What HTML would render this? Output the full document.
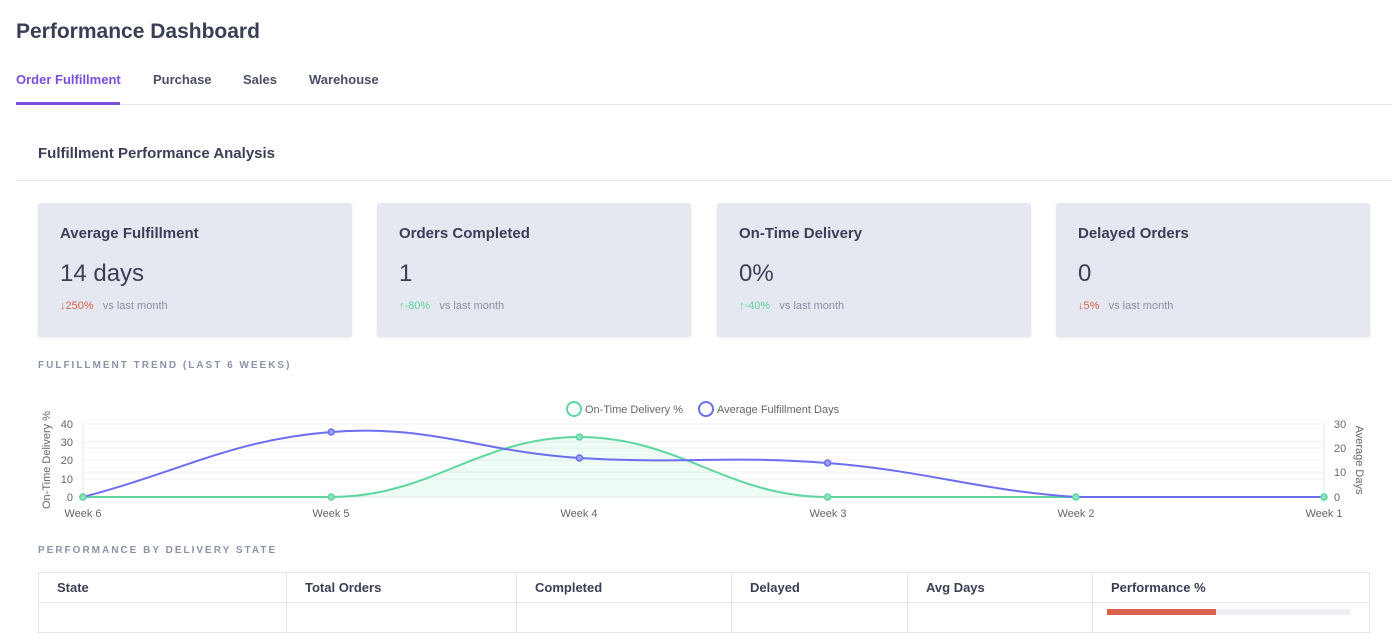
<!DOCTYPE html>
<html><head><meta charset="utf-8"><style>
*{margin:0;padding:0;box-sizing:border-box}
body{width:1400px;height:612px;overflow:hidden;background:#fff;font-family:"Liberation Sans",sans-serif;color:#3a3f55;position:relative}
.a{position:absolute;white-space:nowrap}
.card{position:absolute;top:203px;width:314px;height:134px;background:#e6e8f1;border-radius:3px;box-shadow:0 1px 3px rgba(0,0,0,0.08)}
.card .t{position:absolute;left:22px;top:22px;font-size:15px;font-weight:bold;color:#3a3f55}
.card .v{position:absolute;left:22px;top:57px;font-size:24px;color:#3a3f55}
.card .c{position:absolute;left:22px;top:97px;font-size:11px;color:#8a90a2}
.red{color:#d9604a}.grn{color:#5ed6a0}
.cap{font-size:10px;font-weight:bold;letter-spacing:2px;color:#8a93a8}
th{font-size:13px;font-weight:bold;text-align:left;padding-left:18px;color:#3a3f55;border:1px solid #e2e5ee;height:30px}
</style></head><body>
<div class="a" style="left:16px;top:20px;font-size:21px;font-weight:bold">Performance Dashboard</div>
<div class="a" style="left:16px;top:72px;font-size:13px;font-weight:bold;color:#7c4ddb">Order Fulfillment</div>
<div class="a" style="left:153px;top:72px;font-size:13px;font-weight:bold;color:#4a4f66">Purchase</div>
<div class="a" style="left:243px;top:72px;font-size:13px;font-weight:bold;color:#4a4f66">Sales</div>
<div class="a" style="left:309px;top:72px;font-size:13px;font-weight:bold;color:#4a4f66">Warehouse</div>
<div class="a" style="left:16px;top:104px;width:1376px;height:1px;background:#e2e5ee"></div>
<div class="a" style="left:16px;top:102px;width:104px;height:3px;background:#7c4ddb"></div>
<div class="a" style="left:38px;top:145px;font-size:15px;font-weight:bold">Fulfillment Performance Analysis</div>
<div class="a" style="left:16px;top:180px;width:1376px;height:1px;background:#e2e5ee"></div>

<div class="card" style="left:38px"><div class="t">Average Fulfillment</div><div class="v">14 days</div><div class="c"><span class="red">↓250%</span>&nbsp;&nbsp; vs last month</div></div>
<div class="card" style="left:377px"><div class="t">Orders Completed</div><div class="v">1</div><div class="c"><span class="grn">↑-80%</span>&nbsp;&nbsp; vs last month</div></div>
<div class="card" style="left:717px"><div class="t">On-Time Delivery</div><div class="v">0%</div><div class="c"><span class="grn">↑-40%</span>&nbsp;&nbsp; vs last month</div></div>
<div class="card" style="left:1056px"><div class="t">Delayed Orders</div><div class="v">0</div><div class="c"><span class="red">↓5%</span>&nbsp;&nbsp; vs last month</div></div>

<div class="a cap" style="left:38px;top:360px">FULFILLMENT TREND (LAST 6 WEEKS)</div>

<svg class="a" style="left:0;top:390px" width="1400" height="135" viewBox="0 390 1400 135" font-family="Liberation Sans, sans-serif" font-size="11" fill="#666">
<g stroke="#eef0f4" stroke-width="1">
<line x1="83" x2="1324" y1="424" y2="424"/><line x1="83" x2="1324" y1="442" y2="442"/><line x1="83" x2="1324" y1="460" y2="460"/><line x1="83" x2="1324" y1="479" y2="479"/>
<line x1="83" x2="1324" y1="448" y2="448"/><line x1="83" x2="1324" y1="472" y2="472"/>
</g>
<line x1="83" x2="83" y1="424" y2="497" stroke="#e2e5ee"/>
<line x1="1324" x2="1324" y1="424" y2="497" stroke="#e2e5ee"/>
<line x1="83" x2="1324" y1="497" y2="497" stroke="#e2e5ee"/>
<g text-anchor="end"><text x="73" y="428">40</text><text x="73" y="446">30</text><text x="73" y="464">20</text><text x="73" y="483">10</text><text x="73" y="501">0</text></g>
<g><text x="1334" y="428">30</text><text x="1334" y="452">20</text><text x="1334" y="476">10</text><text x="1334" y="501">0</text></g>
<text transform="translate(50,460) rotate(-90)" text-anchor="middle">On-Time Delivery %</text>
<text transform="translate(1356,460) rotate(90)" text-anchor="middle">Average Days</text>
<g text-anchor="middle"><text x="83" y="517">Week 6</text><text x="331" y="517">Week 5</text><text x="579" y="517">Week 4</text><text x="828" y="517">Week 3</text><text x="1076" y="517">Week 2</text><text x="1324" y="517">Week 1</text></g>
<circle cx="574" cy="409" r="7" fill="none" stroke="#5ed6a0" stroke-width="2"/><text x="585" y="413">On-Time Delivery %</text>
<circle cx="706" cy="409" r="7" fill="none" stroke="#6b6ef0" stroke-width="2"/><text x="717" y="413">Average Fulfillment Days</text>
<path d="M83,497 C182.3,497 231.9,497 331.2,497 C430.5,497 480.1,437 579.4,437 C678.7,437 728.3,497 827.6,497 L1324,497 Z" fill="#5ed6a0" fill-opacity="0.1"/>
<path d="M83,497 C182.3,497 231.9,497 331.2,497 C430.5,497 480.1,437 579.4,437 C678.7,437 728.3,497 827.6,497 L1324,497" fill="none" stroke="#5ed6a0" stroke-width="2"/>
<path d="M83,497 C182.3,471 231.9,439.8 331.2,432 C430.5,424.2 480.1,451.8 579.4,458 C678.7,464.2 728.3,455.2 827.6,463 C926.9,470.8 976.5,490.2 1075.8,497 L1324,497" fill="none" stroke="#6b6ef0" stroke-width="2"/>
<g fill="#9fa1f5" stroke="#6b6ef0" stroke-width="1.5"><circle cx="83" cy="497" r="3"/><circle cx="331.2" cy="432" r="3"/><circle cx="579.4" cy="458" r="3"/><circle cx="827.6" cy="463" r="3"/></g>
<g fill="#8fe3bd" stroke="#5ed6a0" stroke-width="1.5"><circle cx="83" cy="497" r="3"/><circle cx="331.2" cy="497" r="3"/><circle cx="579.4" cy="437" r="3"/><circle cx="827.6" cy="497" r="3"/><circle cx="1075.8" cy="497" r="3"/><circle cx="1324" cy="497" r="3"/></g>
</svg>

<div class="a cap" style="left:38px;top:545px">PERFORMANCE BY DELIVERY STATE</div>
<table class="a" style="left:38px;top:572px;width:1332px;border-collapse:collapse">
<tr><th style="width:248px">State</th><th style="width:230px">Total Orders</th><th style="width:215px">Completed</th><th style="width:176px">Delayed</th><th style="width:185px">Avg Days</th><th>Performance %</th></tr>
<tr><td style="border:1px solid #e2e5ee;height:30px"></td><td style="border:1px solid #e2e5ee"></td><td style="border:1px solid #e2e5ee"></td><td style="border:1px solid #e2e5ee"></td><td style="border:1px solid #e2e5ee"></td><td style="border:1px solid #e2e5ee"></td></tr>
</table>
<div class="a" style="left:1107px;top:609px;width:243px;height:6px;background:#eef0f4"></div>
<div class="a" style="left:1107px;top:609px;width:109px;height:6px;background:#d9604a"></div>
</body></html>
